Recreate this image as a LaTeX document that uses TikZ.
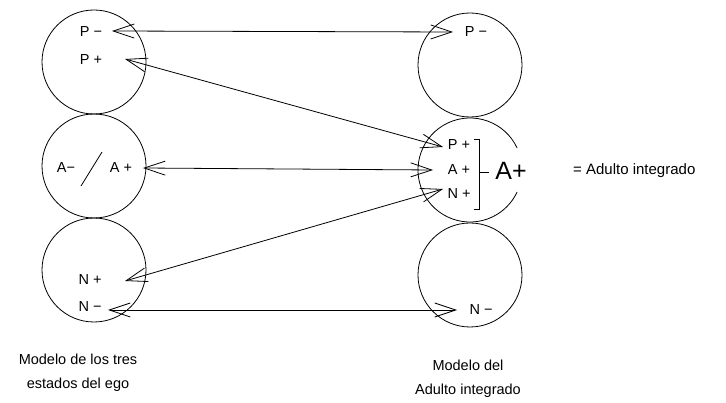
\documentclass[tikz,border=0pt]{standalone}
\usepackage{fontspec}
\setmainfont{Liberation Sans}
\usetikzlibrary{arrows.meta}
\begin{document}
\begin{tikzpicture}[x=1pt,y=-1pt,
  ego/.style={circle,draw,line width=0.8pt,minimum size=104pt,inner sep=0pt},
  lbl/.style={inner sep=0pt,font=\fontsize{14.5}{16}\selectfont},
  captxt/.style={inner sep=0pt,align=center,font=\fontsize{14.5}{24}\selectfont},
  link/.style={line width=0.8pt,{Straight Barb[length=21pt,width=14pt]}-{Straight Barb[length=21pt,width=14pt]}}]
\useasboundingbox (0,0) rectangle (726,403);
% left circles
\node[ego] (L1) at (94,62) {};
\node[ego] (L2) at (94,166) {};
\node[ego] (L3) at (94,270) {};
% right circles
\node[ego] (R1) at (470,65) {};
\node[ego] (R3) at (470,275) {};
\coordinate (R2) at (470,170);
\draw[line width=0.8pt] (R2) ++(25:52pt) arc[start angle=25,end angle=335,radius=52pt];
% left labels
\node[lbl] (lp1) at (91,32) {P −};
\node[lbl] (lp2) at (91,60) {P +};
\node[lbl] (la1) at (66,168) {A−};
\node[lbl] (la2) at (121,168) {A +};
\coordinate (s1) at (81,186);
\coordinate (s2) at (102,152);
\draw[line width=0.8pt] (s1) -- (s2);
\node[lbl] (ln1) at (90,280) {N +};
\node[lbl] (ln2) at (90,307) {N −};
% right labels
\node[lbl] (rp1) at (476,32) {P −};
\node[lbl] (rp2) at (459,145) {P +};
\node[lbl] (ra2) at (459,170) {A +};
\node[lbl] (rn2) at (459,194) {N +};
\node[lbl] (rn1) at (481,310) {N −};
\coordinate (b1) at (474,139);
\coordinate (b2) at (479,139);
\coordinate (b3) at (479,209);
\coordinate (b4) at (474,209);
\draw[line width=0.9pt] (b1) -- (b2) -- (b3) -- (b4);
\coordinate (d1) at (480,172);
\coordinate (d2) at (489,172);
\draw[line width=0.9pt] (d1) -- (d2);
\node[inner sep=0pt,font=\fontsize{25}{26}\selectfont] (Abig) at (511,171) {A+};
\node[inner sep=0pt,anchor=west,font=\fontsize{15}{17}\selectfont] (adint) at (573,171) {= Adulto integrado};
% arrow endpoints
\coordinate (t1a) at (112,31);
\coordinate (t1b) at (453,32);
\coordinate (t2a) at (125,59);
\coordinate (t2b) at (443,147);
\coordinate (t3a) at (143,168);
\coordinate (t3b) at (433,170);
\coordinate (t4a) at (125,281);
\coordinate (t4b) at (443,189);
\coordinate (t5a) at (108,310);
\coordinate (t5b) at (457,310);
\draw[link] (t1a) -- (t1b);
\draw[link] (t2a) -- (t2b);
\draw[link] (t3a) -- (t3b);
\draw[link] (t4a) -- (t4b);
\draw[link] (t5a) -- (t5b);
% captions
\node[captxt] (c1) at (78,373) {Modelo de los tres\\estados del ego};
\node[captxt] (c2) at (468,379) {Modelo del\\Adulto integrado};
\end{tikzpicture}
\end{document}
